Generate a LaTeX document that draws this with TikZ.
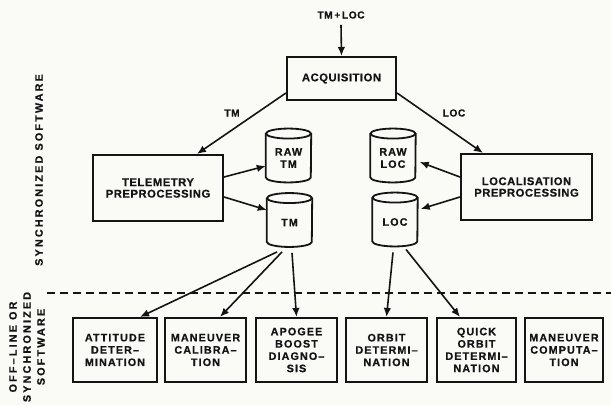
\documentclass[tikz,border=0pt]{standalone}
\usepackage{fontspec}
\setmainfont{Liberation Sans}
\newfontfamily\upfont[LetterSpace=5,FakeBold=0.6]{Liberation Sans}
\newfontfamily\lowfont[LetterSpace=10,FakeBold=0.6]{Liberation Sans}
\newfontfamily\sidefont[LetterSpace=20,FakeBold=0.6]{Liberation Sans}
\usetikzlibrary{arrows.meta}
\definecolor{paper}{RGB}{250,250,247}
\definecolor{ink}{RGB}{20,20,20}
\begin{document}
\begin{tikzpicture}[x=1pt,y=-1pt,
  box/.style={draw=ink, text=ink, line width=2.1pt, inner sep=0pt, align=center},
  upbox/.style={box, font=\upfont\bfseries\fontsize{11.2}{11.5}\selectfont},
  lowbox/.style={box, minimum height=64pt, font=\lowfont\bfseries\fontsize{10.8}{12.3}\selectfont},
  cyl/.style={inner sep=0pt, text=ink, minimum width=45pt, minimum height=48.5pt, align=center, font=\lowfont\bfseries\fontsize{10.8}{12.3}\selectfont},
  lab/.style={text=ink, font=\upfont\bfseries\fontsize{10.2}{12}\selectfont, inner sep=0pt},
  side/.style={text=ink, font=\sidefont\bfseries\fontsize{10.8}{14}\selectfont, align=center, rotate=90, inner sep=0pt},
  arr/.style={draw=ink, line width=1.6pt, -{Latex[length=9pt,width=7.5pt]}},
  cylline/.style={draw=ink, line width=1.8pt}
]
\fill[paper] (0,0) rectangle (611,405);
\useasboundingbox (0,0) rectangle (611,405);

% top
\node[lab] (tmloc) at (341,15) {TM\,+\,LOC};
\node[upbox, minimum width=109pt, minimum height=43pt] (acq) at (341.5,78.5) {ACQUISITION};
\node[lab] (ltm) at (232,113) {TM};
\node[lab] (lloc) at (454,113) {LOC};

\node[upbox, minimum width=130pt, minimum height=66pt] (tel) at (158,188) {TELEMETRY\\PREPROCESSING};
\node[upbox, minimum width=131pt, minimum height=66pt] (loc) at (526.5,187) {LOCALISATION\\PREPROCESSING};

% cylinders
\node[cyl] (rawtm) at (288.5,158) {RAW\\TM};
\node[cyl] (tmc) at (289.5,222.5) {TM};
\node[cyl] (rawloc) at (393,158) {RAW\\LOC};
\node[cyl] (locc) at (395,222) {LOC};
\foreach \n in {rawtm,tmc,rawloc,locc}{
  \draw[cylline] (\n.north west) -- ([yshift=5pt]\n.south west)
     arc[start angle=180,end angle=360,x radius=22.5pt,y radius=5pt]
     -- (\n.north east);
  \draw[cylline] (\n.north) ellipse[x radius=22.5pt,y radius=5pt];
}

% separator
\draw[draw=ink, line width=2pt, dash pattern=on 8pt off 5pt] (47,293) -- (611,293);

% bottom boxes
\node[lowbox, minimum width=84pt] (att) at (115,350) {ATTITUDE\\DETER–\\MINATION};
\node[lowbox, minimum width=81pt] (mcal) at (205.5,350) {MANEUVER\\CALIBRA–\\TION};
\node[lowbox, minimum width=81pt] (apo) at (296.5,350) {APOGEE\\BOOST\\DIAGNO–\\SIS};
\node[lowbox, minimum width=81pt] (odet) at (386.5,350) {ORBIT\\DETERMI–\\NATION};
\node[lowbox, minimum width=79pt] (qod) at (476.5,350) {QUICK\\ORBIT\\DETERMI–\\NATION};
\node[lowbox, minimum width=78pt] (mcomp) at (564,350) {MANEUVER\\COMPUTA–\\TION};

% side labels
\node[side] (synsw) at (39,170) {SYNCHRONIZED SOFTWARE};
\node[side] (offsw) at (27,347) {OFF–LINE OR\\SYNCHRONIZED\\SOFTWARE};

% connectors
\draw[arr] ([yshift=-6pt]tmloc.south) -- (acq.north);
\draw[arr] ([yshift=-14.5pt]acq.west) -- ([xshift=39pt]tel.north);
\draw[arr] ([yshift=-14.5pt]acq.east) -- ([xshift=-43.5pt]loc.north);

\draw[arr] ([yshift=11pt]tel.east) -- ([yshift=-8pt]rawtm.west);
\draw[arr] ([yshift=-9pt]tel.east) -- ([yshift=12.5pt]tmc.west);
\draw[arr] ([yshift=10pt]loc.west) -- ([xshift=4pt,yshift=-4pt]rawloc.east);
\draw[arr] ([yshift=-10pt]loc.west) -- ([xshift=3pt,yshift=13pt]locc.east);

\draw[arr] ([xshift=-12.5pt,yshift=-5pt]tmc.south) -- ([xshift=25pt]att.north);
\draw[arr] ([xshift=-7.5pt,yshift=-5pt]tmc.south) -- ([xshift=14.5pt]mcal.north);
\draw[arr] ([xshift=2.5pt,yshift=-6pt]tmc.south) -- (apo.north);
\draw[arr] ([xshift=-2pt,yshift=-6pt]locc.south) -- (odet.north);
\draw[arr] ([xshift=11pt,yshift=-3pt]locc.south) -- ([xshift=-16.5pt]qod.north);
\end{tikzpicture}
\end{document}
